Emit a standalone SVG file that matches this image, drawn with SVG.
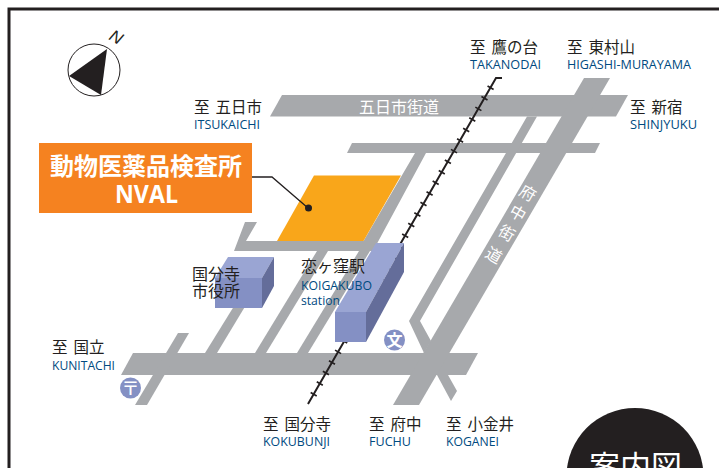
<svg xmlns="http://www.w3.org/2000/svg" width="719" height="468" viewBox="0 0 719 468">
<style>
.road{fill:#a7a9ac}
.jp{font-family:"Noto Sans CJK JP","Noto Sans",sans-serif;font-size:15.5px;fill:#231f20;word-spacing:2.5px}
.en{font-family:"Open Sans","Noto Sans",sans-serif;font-size:13px;fill:#004a80}
.rl{font-family:"Noto Sans CJK JP",sans-serif;font-size:16px;fill:#fff}
.top{fill:#9aa5d3}.front{fill:#8490c4}.side{fill:#646d9a}
.mark{fill:#8490c4}
</style>
<rect width="719" height="468" fill="#fff"/>
<path id="frame" d="M9 468V9H719" fill="none" stroke="#231f20" stroke-width="3"/>

<g id="roads">
<polygon class="road" points="282,95 628,95 616,116.5 270,116.5"/>
<polygon class="road" points="352,143 600,143 595,153 347,153"/>
<polygon class="road" points="415,153 426,153 373,251 234,251 245,222 257,222 246,241 363.5,241"/>
<polygon class="road" points="133,353 478,353 466,375 121,375"/>
<polygon class="road" points="178,333 189,333 147,405 135,405"/>
<polygon class="road" points="244,290 255,290 217,353 205,353"/>
<polygon class="road" points="317,251 328,251 266,353 255,353"/>
<polygon class="road" points="359,251 370,251 308,353 297,353"/>
<polygon class="road" points="584,78 610,78 419,405 393,405"/>
<polygon class="road" points="527,116.5 537,116.5 420,321 431,341 424,353 409,321"/>
<polygon class="road" points="437,375 448,375 457,391 451,401"/>
</g>

<g id="road-labels">
<text class="rl" x="359" y="112.500">五日市街道</text>
<text class="rl" text-anchor="middle" transform="translate(528 193) rotate(30)" y="6">府</text>
<text class="rl" text-anchor="middle" transform="translate(518 213) rotate(30)" y="6">中</text>
<text class="rl" text-anchor="middle" transform="translate(507 233) rotate(30)" y="6">街</text>
<text class="rl" text-anchor="middle" transform="translate(494 255) rotate(30)" y="6">道</text>
</g>

<g id="railway" fill="none" stroke="#231f20">
<path d="M502 78H496L308 404" stroke-width="2"/>
<path d="M491 87L308 404" stroke-width="7" stroke-dasharray="1.700 10.500"/>
</g>

<g id="nval-site"><polygon points="314,175.500 401,175.500 363.500,241 277,241" fill="#f9a61a"/></g>

<g id="nval-label">
<rect x="39" y="143" width="213" height="70" fill="#f58220"/>
<text x="146" y="175" text-anchor="middle" font-family="'Noto Sans CJK JP',sans-serif" font-weight="700" font-size="24" fill="#fff">動物医薬品検査所</text>
<text x="146.500" y="203" text-anchor="middle" font-family="'Open Sans',sans-serif" font-weight="700" font-size="25" fill="#fff" textLength="63" lengthAdjust="spacingAndGlyphs">NVAL</text>
</g>

<g id="connectors">
<path d="M252 177H272L308 208" fill="none" stroke="#231f20" stroke-width="1.300"/>
<circle cx="308.500" cy="208" r="3.500" fill="#231f20"/>
</g>

<g id="compass">
<circle cx="94" cy="70" r="26" fill="#fff" stroke="#231f20" stroke-width="1"/>
<polygon points="107,49 69,76 101,95" fill="#231f20"/>
<text x="0" y="0" transform="translate(108 39) rotate(30)" font-family="'Liberation Sans',sans-serif" font-style="italic" font-size="17" fill="#231f20">N</text>
</g>

<g id="city-hall">
<polygon class="top" points="215,278 228,257 274,257 262,278"/>
<rect class="front" x="215" y="278" width="47" height="30"/>
<polygon class="side" points="262,278 274,257 274,286 262,308"/>
<text class="jp" x="192" y="280" font-size="16" style="font-size:16px">国分寺</text>
<text class="jp" x="192" y="297" style="font-size:16px">市役所</text>
</g>

<g id="station">
<polygon class="top" points="335,312 376,243 404,243 366,312"/>
<rect class="front" x="335" y="312" width="31" height="30"/>
<polygon class="side" points="366,312 404,243 404,272 366,342"/>
<text class="jp" x="301" y="272" style="font-size:16px">恋ヶ窪駅</text>
<text class="en" x="301" y="290" textLength="71" lengthAdjust="spacingAndGlyphs">KOIGAKUBO</text>
<text class="en" x="301" y="305" textLength="39" lengthAdjust="spacingAndGlyphs">station</text>
</g>

<g id="school">
<circle class="mark" cx="394.500" cy="340" r="10.500"/>
<text x="394.500" y="346" text-anchor="middle" font-family="'Noto Sans CJK JP',sans-serif" font-weight="700" font-size="16" fill="#fff">文</text>
</g>
<g id="post-office">
<circle class="mark" cx="130.500" cy="388" r="10.500"/>
<text x="130.500" y="394.500" text-anchor="middle" font-family="'Noto Sans CJK JP',sans-serif" font-weight="500" font-size="18" fill="#fff">〒</text>
</g>

<g id="label-itsukaichi"><text class="jp" x="194" y="113">至 五日市</text><text class="en" x="194" y="129" textLength="66" lengthAdjust="spacingAndGlyphs">ITSUKAICHI</text></g>
<g id="label-takanodai"><text class="jp" x="470" y="53">至 鷹の台</text><text class="en" x="470" y="69" textLength="71" lengthAdjust="spacingAndGlyphs">TAKANODAI</text></g>
<g id="label-higashimurayama"><text class="jp" x="567" y="53">至 東村山</text><text class="en" x="567" y="69" textLength="124" lengthAdjust="spacingAndGlyphs">HIGASHI-MURAYAMA</text></g>
<g id="label-shinjyuku"><text class="jp" x="630" y="113">至 新宿</text><text class="en" x="630" y="129" textLength="67" lengthAdjust="spacingAndGlyphs">SHINJYUKU</text></g>
<g id="label-kunitachi"><text class="jp" x="52" y="353">至 国立</text><text class="en" x="52" y="370" textLength="63" lengthAdjust="spacingAndGlyphs">KUNITACHI</text></g>
<g id="label-kokubunji"><text class="jp" x="263" y="430">至 国分寺</text><text class="en" x="263" y="446" textLength="67" lengthAdjust="spacingAndGlyphs">KOKUBUNJI</text></g>
<g id="label-fuchu"><text class="jp" x="369" y="430">至 府中</text><text class="en" x="369" y="446" textLength="42" lengthAdjust="spacingAndGlyphs">FUCHU</text></g>
<g id="label-koganei"><text class="jp" x="446" y="430">至 小金井</text><text class="en" x="446" y="446" textLength="53" lengthAdjust="spacingAndGlyphs">KOGANEI</text></g>

<g id="guide-badge">
<circle cx="635" cy="476.500" r="68.500" fill="#231f20"/>
<text x="635.500" y="478" text-anchor="middle" font-family="'Noto Sans CJK JP',sans-serif" font-size="31" fill="#fff">案内図</text>
</g>
</svg>
